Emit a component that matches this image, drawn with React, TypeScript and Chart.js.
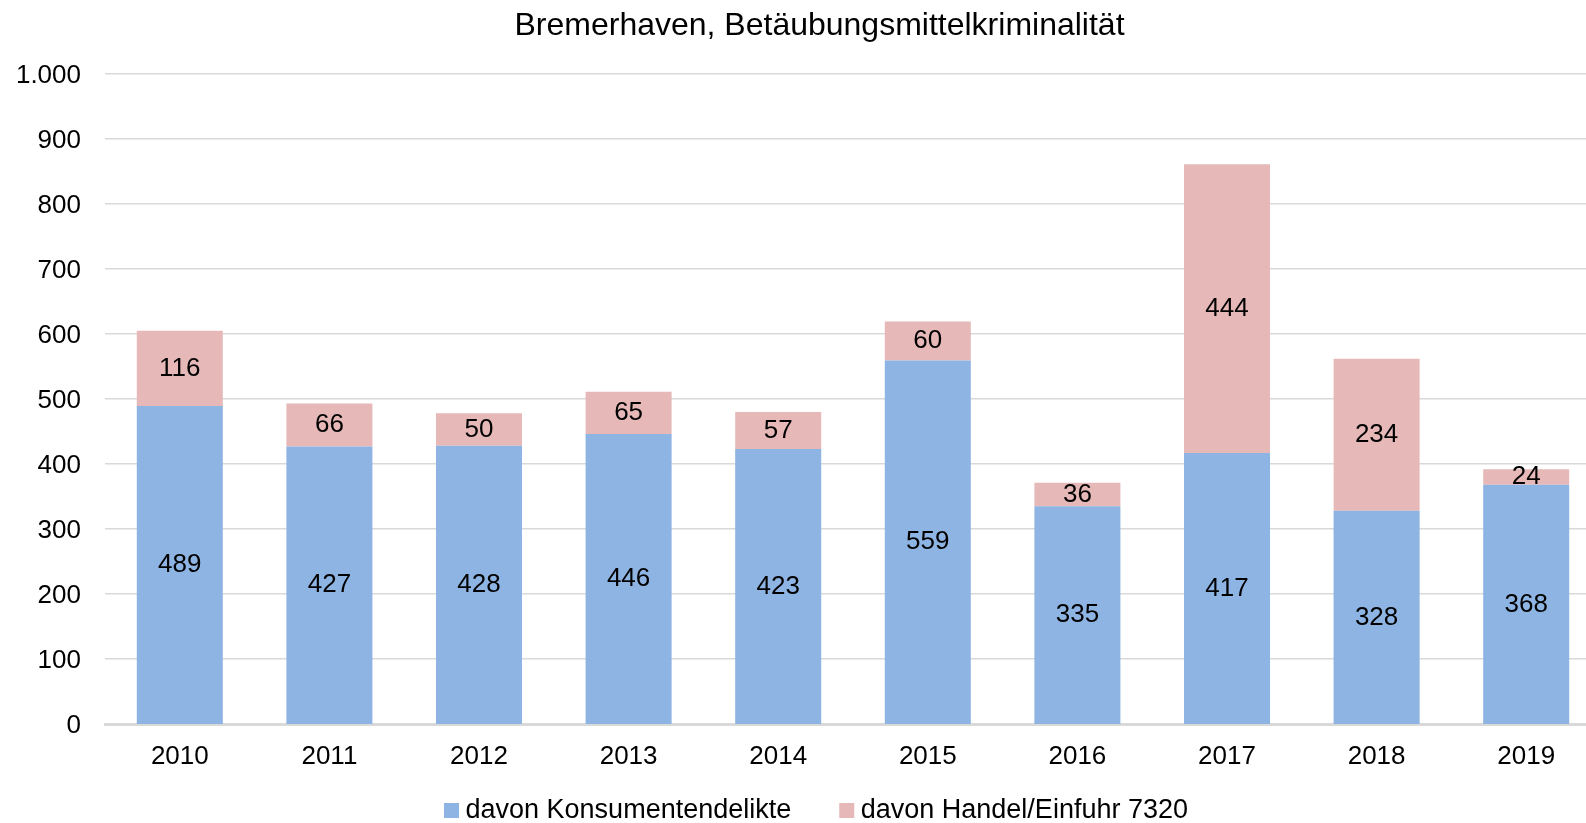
import React, { useEffect, useRef } from "react";
import { Chart, registerables } from "chart.js";

Chart.register(...registerables);

const FONT = "'Liberation Sans', Arial, sans-serif";
Chart.defaults.font.family = FONT;

const chartTitle = "Bremerhaven, Betäubungsmittelkriminalität";
const years = ["2010", "2011", "2012", "2013", "2014", "2015", "2016", "2017", "2018", "2019"];
const seriesNames = ["davon Konsumentendelikte", "davon Handel/Einfuhr 7320"];
const konsumenten = [489, 427, 428, 446, 423, 559, 335, 417, 328, 368];
const handel = [116, 66, 50, 65, 57, 60, 36, 444, 234, 24];
const yMin = 0;
const yMax = 1000;
const yStep = 100;

const fmt = (v: number) =>
  String(Math.round(v)).replace(/\B(?=(\d{3})+(?!\d))/g, ".");

const segLabels = {
  id: "segLabels",
  afterDatasetsDraw(chart: any) {
    const ctx = chart.ctx;
    ctx.save();
    ctx.font = `26px ${FONT}`;
    ctx.fillStyle = "#000";
    ctx.textAlign = "center";
    ctx.textBaseline = "middle";
    chart.data.datasets.forEach((ds: any, di: number) => {
      const meta = chart.getDatasetMeta(di);
      meta.data.forEach((el: any, i: number) => {
        const v = ds.data[i];
        const p = el.getProps(["x", "y", "base"], true);
        ctx.fillText(fmt(v), p.x, (p.y + p.base) / 2);
      });
    });
    ctx.restore();
  },
};

// let tick labels draw outside their (deliberately small) scale boxes
const noLabelClip = (s: any) => {
  s._computeLabelArea = () => undefined;
};

export default function App() {
  const ref = useRef<HTMLCanvasElement>(null);
  useEffect(() => {
    const chart = new Chart(ref.current as HTMLCanvasElement, {
      type: "bar",
      data: {
        labels: years,
        datasets: [
          { label: seriesNames[0], data: konsumenten, backgroundColor: "#8EB4E3", stack: "s" },
          { label: seriesNames[1], data: handel, backgroundColor: "#E6B9B8", stack: "s" },
        ],
      },
      options: {
        responsive: false,
        animation: false,
        layout: { padding: { left: 38, right: 0, top: 0, bottom: 0 } },
        datasets: { bar: { barPercentage: 0.575, categoryPercentage: 1 } },
        scales: {
          x: {
            stacked: true,
            z: 1,
            grid: { display: false },
            border: { display: true, color: "#D9D9D9", width: 3 },
            ticks: { color: "#000", font: { size: 26 }, padding: 9 },
            afterFit: (s: any) => {
              s.height = 18;
              noLabelClip(s);
            },
          },
          y: {
            stacked: true,
            min: yMin,
            max: yMax,
            ticks: {
              stepSize: yStep,
              color: "#000",
              font: { size: 26 },
              padding: 24,
              labelOffset: 1.5,
              callback: (v: any) => fmt(Number(v)),
            },
            grid: {
              color: "#D9D9D9",
              lineWidth: (c: any) => (c.tick && c.tick.value === 0 ? 0 : 1.5),
              drawTicks: false,
            },
            border: { display: false },
            afterFit: (s: any) => {
              s.width = 67;
              noLabelClip(s);
            },
          },
        },
        plugins: {
          title: {
            display: true,
            text: chartTitle,
            color: "#000",
            font: { size: 32, weight: "normal" },
            padding: { top: 7, bottom: 28.5 },
          },
          legend: {
            position: "bottom",
            labels: {
              usePointStyle: true,
              pointStyle: "rect",
              boxWidth: 1,
              boxHeight: 15,
              padding: 55,
              color: "#000",
              font: { size: 27 },
            },
          },
          tooltip: { enabled: false },
        },
      } as any,
      plugins: [segLabels],
    });
    return () => chart.destroy();
  }, []);
  return (
    <div
      style={{
        position: "fixed",
        left: 0,
        top: 0,
        width: 1586,
        height: 823,
        overflow: "hidden",
        background: "#fff",
      }}
    >
      <canvas ref={ref} width={1601} height={834} style={{ display: "block" }} />
    </div>
  );
}
